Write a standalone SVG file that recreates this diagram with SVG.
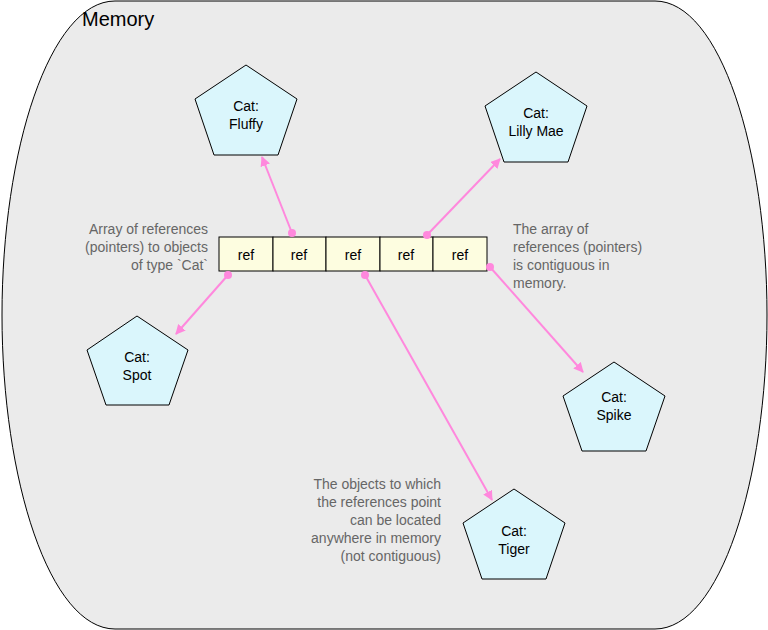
<svg xmlns="http://www.w3.org/2000/svg" width="768" height="630" viewBox="0 0 768 630">
<defs>
<style>
.t{font-family:"Liberation Sans",Arial,sans-serif;font-size:14px;fill:#000}
.g{font-family:"Liberation Sans",Arial,sans-serif;font-size:14px;fill:#666}
.cat{fill:#daf6fc;stroke:#000;stroke-width:1}
.cell{fill:#fdfde0;stroke:#000;stroke-width:1}
.c{stroke:#ff88dd;stroke-width:2;fill:none;marker-end:url(#ah)}
.d{fill:#ff88dd}
</style>
<marker id="ah" markerWidth="10" markerHeight="10" refX="9" refY="5" orient="auto" markerUnits="userSpaceOnUse"><path d="M0,0 L10,5 L0,10 Z" fill="#ff88dd"/></marker>
</defs>
<g id="memory">
<path d="M115,1 L655,1 C720,1 767,150 767,315 C767,480 720,629 655,629 L115,629 C50,629 2,480 2,315 C2,150 50,1 115,1 Z" fill="#ebebeb" stroke="#000"/>
<text x="82" y="26" class="t" style="font-size:20px">Memory</text>
</g>
<g id="fluffy"><polygon class="cat" points="246,65 297,99 278,155 214,155 195,99"/><text class="t" text-anchor="middle" x="246" y="111">Cat:</text><text class="t" text-anchor="middle" x="246" y="129">Fluffy</text></g>
<g id="lillymae"><polygon class="cat" points="536,72 587,106 568,162 504,162 485,106"/><text class="t" text-anchor="middle" x="536" y="118">Cat:</text><text class="t" text-anchor="middle" x="536" y="136">Lilly Mae</text></g>
<g id="spot"><polygon class="cat" points="137,316 188,350 169,405 106,405 87,350"/><text class="t" text-anchor="middle" x="137" y="362">Cat:</text><text class="t" text-anchor="middle" x="137" y="380">Spot</text></g>
<g id="spike"><polygon class="cat" points="614,362 665,396 646,451 582,451 563,396"/><text class="t" text-anchor="middle" x="614" y="402">Cat:</text><text class="t" text-anchor="middle" x="614" y="420">Spike</text></g>
<g id="tiger"><polygon class="cat" points="514,489 565,523 546,579 482,579 463,523"/><text class="t" text-anchor="middle" x="514" y="536">Cat:</text><text class="t" text-anchor="middle" x="514" y="554">Tiger</text></g>
<g id="array">
<rect class="cell" x="219" y="237" width="54" height="34"/>
<rect class="cell" x="273" y="237" width="53" height="34"/>
<rect class="cell" x="326" y="237" width="54" height="34"/>
<rect class="cell" x="380" y="237" width="53" height="34"/>
<rect class="cell" x="433" y="237" width="54" height="34"/>
<text class="t" text-anchor="middle" x="246" y="260">ref</text>
<text class="t" text-anchor="middle" x="299" y="260">ref</text>
<text class="t" text-anchor="middle" x="353" y="260">ref</text>
<text class="t" text-anchor="middle" x="406" y="260">ref</text>
<text class="t" text-anchor="middle" x="460" y="260">ref</text>
</g>
<g id="labels">
<text class="g" text-anchor="end" x="208" y="234">Array of references</text>
<text class="g" text-anchor="end" x="208" y="252">(pointers) to objects</text>
<text class="g" text-anchor="end" x="208" y="270">of type `Cat`</text>
<text class="g" x="513" y="234">The array of</text>
<text class="g" x="513" y="252">references (pointers)</text>
<text class="g" x="513" y="270">is contiguous in</text>
<text class="g" x="513" y="288">memory.</text>
<text class="g" text-anchor="end" x="441" y="489">The objects to which</text>
<text class="g" text-anchor="end" x="441" y="507">the references point</text>
<text class="g" text-anchor="end" x="441" y="525">can be located</text>
<text class="g" text-anchor="end" x="441" y="543">anywhere in memory</text>
<text class="g" text-anchor="end" x="441" y="561">(not contiguous)</text>
</g>
<g id="connectors">
<path class="c" d="M292,233 L262,157"/><circle class="d" cx="292" cy="233" r="4"/>
<path class="c" d="M427,235 L500,159"/><circle class="d" cx="427" cy="235" r="4"/>
<path class="c" d="M228,275 L176,334"/><circle class="d" cx="228" cy="275" r="4"/>
<path class="c" d="M365,275 L492,500"/><circle class="d" cx="365" cy="275" r="4"/>
<path class="c" d="M490,267 L583,372"/><circle class="d" cx="490" cy="267" r="4"/>
</g>
</svg>
